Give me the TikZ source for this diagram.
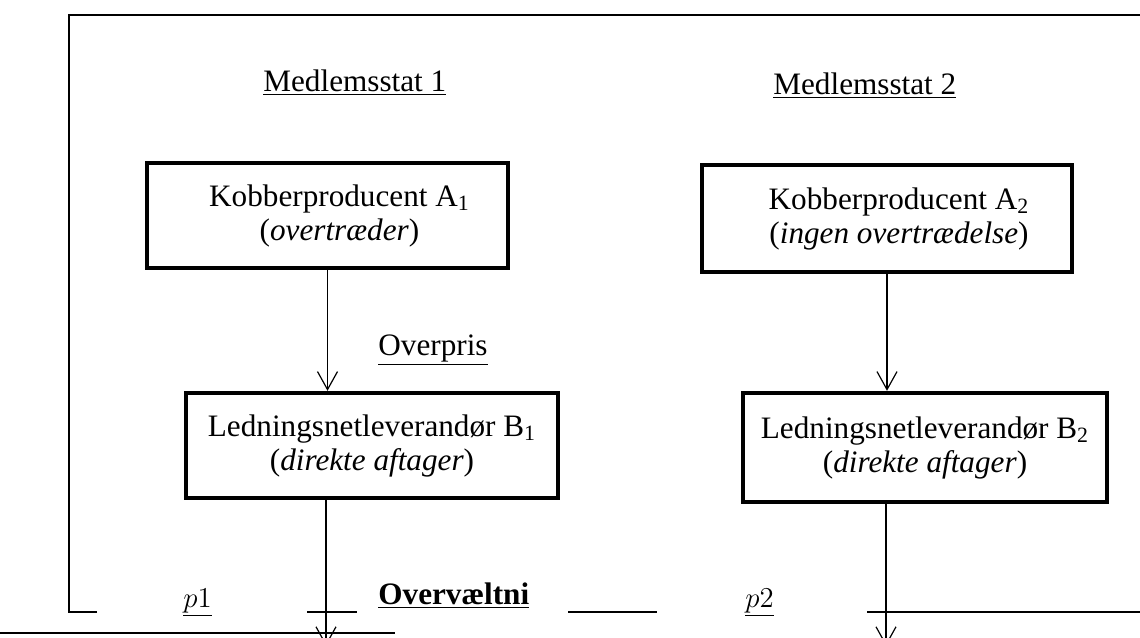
\documentclass[tikz,border=0pt]{standalone}
\usepackage{fontspec}
\setmainfont{Liberation Serif}
\usetikzlibrary{arrows.meta}
\usetikzlibrary{positioning}
\newcommand{\Prod}{Kobberproducent}
\newcommand{\Lev}{Ledningsnetleverandør}
\newcommand{\Txt}{\fontsize{15.6}{17}\selectfont}
\tikzstyle{firm} = [rectangle, draw=black, line width=2.2pt, align=center, inner sep=0pt, font=\Txt]
\tikzstyle{lbl} = [anchor=base west, inner sep=0pt, font=\Txt]
\tikzstyle{flow} = [-{Straight Barb[length=9pt,width=10pt]}, line width=0.6pt]
\tikzstyle{frame} = [line width=1.4pt]

\begin{document}
\begin{tikzpicture}[x=0.5pt, y=-0.5pt]
%\draw [help lines] (0,0) grid (1140,637);
\useasboundingbox (0,0) rectangle (1140,637);

% Define nodes
\node[firm, minimum width=180.5pt, minimum height=52.5pt] (a1) at (327.5,215.5) {\hspace*{12pt}\Prod{} A\textsubscript{1}\\\hspace*{12pt}(\textit{overtræder})};
\node[firm, minimum width=185pt, minimum height=53.5pt]   (a2) at (887,218.5)   {\hspace*{12pt}\Prod{} A\textsubscript{2}\\\hspace*{12pt}(\textit{ingen overtrædelse})};
\node[firm, minimum width=186pt, minimum height=52.5pt]   (b1) at (372,445.5)   {\Lev{} B\textsubscript{1}\\(\textit{direkte aftager})};
\node[firm, minimum width=182pt, minimum height=54.5pt]   (b2) at (925,447.5)   {\Lev{} B\textsubscript{2}\\(\textit{direkte aftager})};

\node[lbl] (m1)    at (263,91)  {\underline{Medlemsstat 1}};
\node[lbl] (m2)    at (773,94)  {\underline{Medlemsstat 2}};
\node[lbl] (over)  at (378,355) {\underline{Overpris}};
\node[lbl] (p1)    at (183,607) {\underline{$p1$}};
\node[lbl] (overv) at (378,604) {\underline{\textbf{Overvæltni}}};
\node[lbl] (p2)    at (745,607) {\underline{$p2$}};

\coordinate (e1) at (326,646);
\coordinate (e2) at (886,646);

% Frame
\draw[frame] (97,612) -- (69,612) -- (69,15) -- (1140,15);
\draw[frame] (307,612) -- (357,612);
\draw[frame] (568,612) -- (657,612);
\draw[frame] (867,612) -- (1140,612);
\draw[frame] (0,633) -- (395,633);

% Edges
\draw[flow] (a1.south) -- (a1.south |- b1.north);
\draw[flow] (a2.south) -- (a2.south |- b2.north);
\draw[flow] (b1.south -| e1) -- (e1);
\draw[flow] (b2.south -| e2) -- (e2);
\end{tikzpicture}
\end{document}
